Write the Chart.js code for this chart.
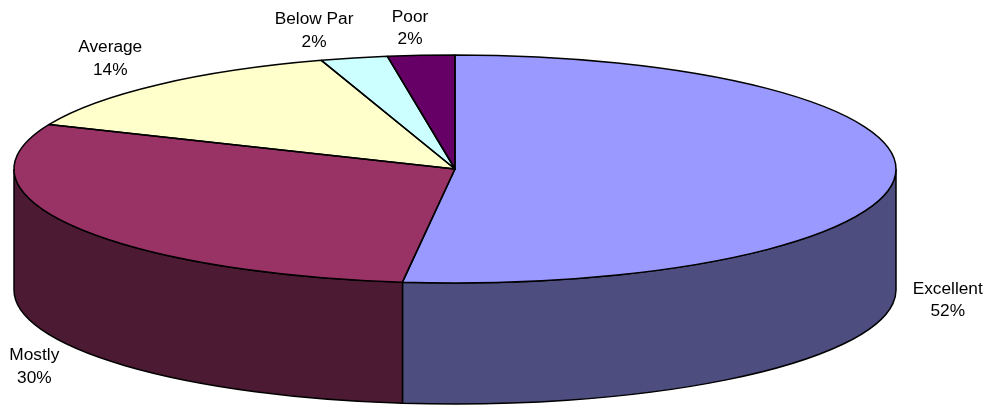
<!DOCTYPE html>
<html>
<head>
<meta charset="utf-8">
<title>Pie chart</title>
<style>
    html, body { margin: 0; padding: 0; background: #fff; }
    canvas { display: block; }
</style>
<script src="https://cdn.jsdelivr.net/npm/chart.js@4"></script>
</head>
<body>
<canvas id="myChart" width="989" height="408"></canvas>
<script>
const categories = ['Excellent', 'Mostly', 'Average', 'Below Par', 'Poor'];
const shares = [51.9, 29.5, 13.7, 2.45, 2.45];
const topColors = ['#9999FF', '#993366', '#FFFFCC', '#CCFFFF', '#660066'];
const sideColors = ['#4D4D80', '#4D1A33', '#808066', '#668080', '#330033'];

// label centre, relative to the rim point at the middle of each slice
const labelOffsets = [[52.5, 124.5], [-39, 140.5], [-48, -26], [-40, -27], [-11, -27]];

// squashed look of the pie
const radiusX = 441;
const radiusY = 114;
const depth = 121;

function tracePieWall(ctx, arc, from, to) {
    ctx.beginPath();
    ctx.ellipse(arc.x, arc.y, radiusX, radiusY, 0, from, to);
    ctx.lineTo(arc.x + radiusX * Math.cos(to), arc.y + depth + radiusY * Math.sin(to));
    ctx.ellipse(arc.x, arc.y + depth, radiusX, radiusY, 0, to, from, true);
    ctx.closePath();
}

const pie3d = {
    id: 'pie3d',
    beforeDatasetsDraw(chart) {
        const ctx = chart.ctx;
        const arcs = chart.getDatasetMeta(0).data;

        // only the front half of the rim shows
        arcs.forEach((arc, i) => {
            const from = Math.max(arc.startAngle, 0);
            const to = Math.min(arc.endAngle, Math.PI);
            if (from >= to) return;
            tracePieWall(ctx, arc, from, to);
            ctx.fillStyle = sideColors[i];
            ctx.fill();
            ctx.lineWidth = 1.5;
            ctx.strokeStyle = '#000';
            ctx.stroke();
        });

        const arc = arcs[0];
        ctx.save();
        ctx.translate(arc.x, arc.y);
        ctx.scale(radiusX / arc.outerRadius, radiusY / arc.outerRadius);
        ctx.translate(-arc.x, -arc.y);
    },
    afterDatasetsDraw(chart) {
        const ctx = chart.ctx;
        ctx.restore();

        chart.getDatasetMeta(0).data.forEach((arc, i) => {
            ctx.beginPath();
            ctx.moveTo(arc.x, arc.y);
            ctx.ellipse(arc.x, arc.y, radiusX, radiusY, 0, arc.startAngle, arc.endAngle);
            ctx.closePath();
            ctx.lineWidth = 1.5;
            ctx.lineJoin = 'round';
            ctx.strokeStyle = '#000';
            ctx.stroke();

            const mid = (arc.startAngle + arc.endAngle) / 2;
            const x = arc.x + radiusX * Math.cos(mid) + labelOffsets[i][0];
            const y = arc.y + radiusY * Math.sin(mid) + labelOffsets[i][1];
            const total = shares.reduce((a, b) => a + b, 0);
            ctx.font = '17.3px "Liberation Sans", Arial, sans-serif';
            ctx.fillStyle = '#000';
            ctx.textAlign = 'center';
            ctx.textBaseline = 'middle';
            ctx.fillText(categories[i], x, y - 11.3);
            ctx.fillText(Math.round(shares[i] / total * 100 + 0.001) + '%', x, y + 11.3);
        });
    }
};

new Chart(document.getElementById('myChart').getContext('2d'), {
    type: 'pie',
    data: {
        labels: categories,
        datasets: [{
            data: shares,
            backgroundColor: topColors,
            borderWidth: 0,
            clip: false
        }]
    },
    options: {
        responsive: false,
        animation: false,
        devicePixelRatio: 1,
        layout: { padding: { left: 0, right: 79, top: 0, bottom: 70 } },
        plugins: {
            legend: { display: false },
            tooltip: { enabled: false }
        }
    },
    plugins: [pie3d]
});
</script>
</body>
</html>
